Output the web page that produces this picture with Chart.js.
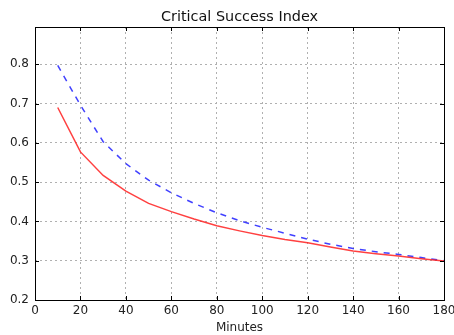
<!DOCTYPE html>
<html>
<head>
<meta charset="utf-8">
<script src="https://cdn.jsdelivr.net/npm/chart.js@4.4.0/dist/chart.umd.min.js"></script>
<style>
  html, body { margin: 0; padding: 0; background: #fff; }
  #wrap { width: 454px; height: 335px; }
</style>
</head>
<body>
<div id="wrap"><canvas id="csiChart" width="454" height="335"></canvas></div>
<script>
// minutes and CSI values
const minutes = [10, 20, 30, 40, 50, 60, 70, 80, 90, 100, 110, 120, 130, 140, 150, 160, 170, 180];
const csiSolid = [0.690, 0.577, 0.517, 0.477, 0.446, 0.425, 0.406, 0.389, 0.376, 0.364, 0.354, 0.346, 0.335, 0.325, 0.318, 0.312, 0.305, 0.299];
const csiDashed = [0.797, 0.696, 0.603, 0.547, 0.505, 0.473, 0.446, 0.422, 0.402, 0.385, 0.370, 0.355, 0.342, 0.331, 0.323, 0.316, 0.308, 0.300];
const xTicks = [0, 20, 40, 60, 80, 100, 120, 140, 160, 180];
const yTicks = [0.2, 0.3, 0.4, 0.5, 0.6, 0.7, 0.8];
const chartTitle = "Critical Success Index";

const fontFamily = "'DejaVu Sans', sans-serif";

// matplotlib-ish frame: box round the plot, inward ticks on all sides,
// and the title centred over the plot area (not the canvas)
const framePlugin = {
    id: "frame",
    afterDraw(chart) {
        const ctx = chart.ctx;
        const a = chart.chartArea;
        const xs = chart.scales.x;
        const ys = chart.scales.y;
        ctx.save();
        ctx.strokeStyle = "#000";
        ctx.lineWidth = 1;
        ctx.beginPath();
        xTicks.forEach(v => {
            const px = Math.round(xs.getPixelForValue(v)) + 0.5;
            ctx.moveTo(px, a.bottom); ctx.lineTo(px, a.bottom - 4);
            ctx.moveTo(px, a.top); ctx.lineTo(px, a.top + 4);
        });
        yTicks.forEach(v => {
            const py = Math.round(ys.getPixelForValue(v)) + 0.5;
            ctx.moveTo(a.left, py); ctx.lineTo(a.left + 4, py);
            ctx.moveTo(a.right, py); ctx.lineTo(a.right - 4, py);
        });
        ctx.stroke();
        ctx.strokeRect(Math.round(a.left) + 0.5, Math.round(a.top) + 0.5,
            Math.round(a.right - a.left), Math.round(a.bottom - a.top));

        ctx.fillStyle = "#111";
        ctx.font = "14.4px " + fontFamily;
        ctx.textAlign = "center";
        ctx.textBaseline = "alphabetic";
        ctx.fillText(chartTitle, (a.left + a.right) / 2, 20.5);
        ctx.restore();
    }
};

new Chart(document.getElementById("csiChart"), {
    type: "line",
    data: {
        labels: minutes,
        datasets: [
            {
                label: "solid",
                data: minutes.map((m, i) => ({ x: m, y: csiSolid[i] })),
                borderColor: "rgba(255, 30, 30, 0.85)",
                borderWidth: 1.5,
                pointRadius: 0,
                tension: 0,
                fill: false
            },
            {
                label: "dashed",
                data: minutes.map((m, i) => ({ x: m, y: csiDashed[i] })),
                borderColor: "rgba(30, 30, 255, 0.85)",
                borderWidth: 1.5,
                borderDash: [6, 6],
                pointRadius: 0,
                tension: 0,
                fill: false
            }
        ]
    },
    options: {
        responsive: false,
        animation: false,
        layout: { padding: { left: 0, right: 10, top: 27, bottom: 0 } },
        plugins: {
            legend: { display: false },
            tooltip: { enabled: false },
            title: { display: false }
        },
        scales: {
            x: {
                type: "linear",
                min: 0,
                max: 180,
                afterBuildTicks: axis => { axis.ticks = xTicks.map(v => ({ value: v })); },
                afterFit: scale => {
                    scale.height = 35;
                    scale.paddingLeft = 0;
                    scale.paddingRight = 0;
                },
                grid: { color: "#b0b0b0", lineWidth: 1, drawTicks: false },
                border: { display: false, dash: [2, 3] },
                ticks: {
                    color: "#222",
                    padding: 4,
                    maxRotation: 0,
                    font: { family: fontFamily, size: 12 }
                },
                title: {
                    display: true,
                    text: "Minutes",
                    color: "#222",
                    font: { family: fontFamily, size: 12 },
                    padding: { top: 0, bottom: 0 }
                }
            },
            y: {
                min: 0.2,
                max: 0.895,
                afterBuildTicks: axis => { axis.ticks = yTicks.map(v => ({ value: v })); },
                afterFit: scale => {
                    scale.width = 35;
                    scale.paddingTop = 0;
                    scale.paddingBottom = 0;
                },
                grid: { color: "#b0b0b0", lineWidth: 1, drawTicks: false },
                border: { display: false, dash: [2, 3] },
                ticks: {
                    color: "#222",
                    padding: 6,
                    font: { family: fontFamily, size: 12 },
                    callback: v => v.toFixed(1)
                }
            }
        }
    },
    plugins: [framePlugin]
});
</script>
</body>
</html>
